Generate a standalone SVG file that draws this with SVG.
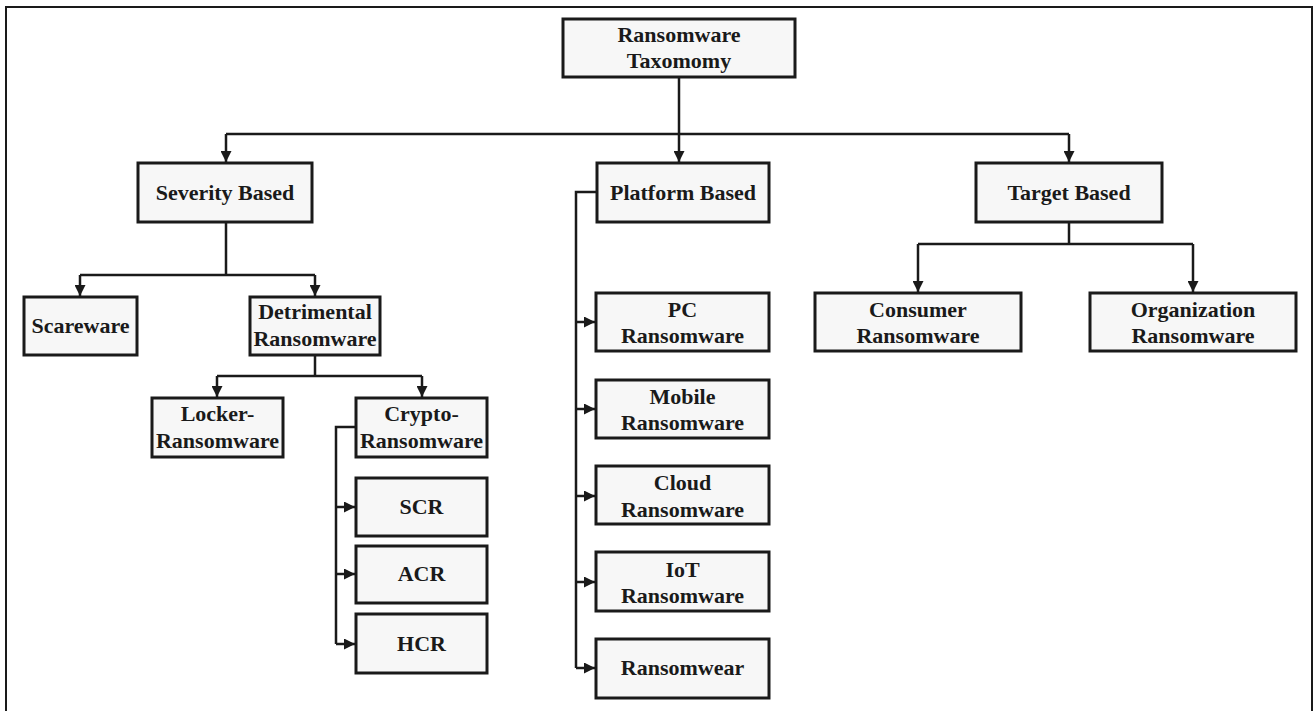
<svg xmlns="http://www.w3.org/2000/svg" width="1314" height="711" viewBox="0 0 1314 711">
<style>
.box{fill:#f7f7f7;stroke:#1a1a1a;stroke-width:3}
.t{font-family:'Liberation Serif','Times New Roman',serif;font-weight:700;font-size:22px;fill:#1a1a1a;text-anchor:middle}
.c{fill:none;stroke:#1a1a1a;stroke-width:2.5}
</style>
<defs>
<marker id="ah" markerUnits="userSpaceOnUse" markerWidth="11" markerHeight="11" viewBox="0 0 10 10" refX="10" refY="5" orient="auto">
<path d="M0,0 L10,5 L0,10 Z" fill="#1a1a1a"/>
</marker>
</defs>
<rect x="0" y="0" width="1314" height="711" fill="#ffffff"/>
<path d="M6,720 L6,7 L1312,7 L1312,720" fill="none" stroke="#1a1a1a" stroke-width="2"/>
<g id="connectors">
<path class="c" d="M679,77 L679,162" marker-end="url(#ah)"/>
<path class="c" d="M226,134 L1069,134"/>
<path class="c" d="M226,134 L226,162" marker-end="url(#ah)"/>
<path class="c" d="M1069,134 L1069,162" marker-end="url(#ah)"/>
<path class="c" d="M226,222 L226,275 M80,275 L315,275"/>
<path class="c" d="M80,275 L80,296" marker-end="url(#ah)"/>
<path class="c" d="M315,275 L315,296" marker-end="url(#ah)"/>
<path class="c" d="M315,355 L315,376 M217,376 L422,376"/>
<path class="c" d="M217,376 L217,397" marker-end="url(#ah)"/>
<path class="c" d="M422,376 L422,397" marker-end="url(#ah)"/>
<path class="c" d="M356,427 L336,427 L336,644"/>
<path class="c" d="M336,507 L355,507" marker-end="url(#ah)"/>
<path class="c" d="M336,574 L355,574" marker-end="url(#ah)"/>
<path class="c" d="M336,644 L355,644" marker-end="url(#ah)"/>
<path class="c" d="M597,192 L576,192 L576,668"/>
<path class="c" d="M576,322 L595,322" marker-end="url(#ah)"/>
<path class="c" d="M576,409 L595,409" marker-end="url(#ah)"/>
<path class="c" d="M576,496 L595,496" marker-end="url(#ah)"/>
<path class="c" d="M576,582 L595,582" marker-end="url(#ah)"/>
<path class="c" d="M576,668 L595,668" marker-end="url(#ah)"/>
<path class="c" d="M1069,222 L1069,244 M918,244 L1193,244"/>
<path class="c" d="M918,244 L918,292" marker-end="url(#ah)"/>
<path class="c" d="M1193,244 L1193,292" marker-end="url(#ah)"/>
</g>
<g id="root"><rect class="box" x="563" y="19" width="232" height="58"/><text class="t" x="679" y="42">Ransomware</text><text class="t" x="679" y="68">Taxomomy</text></g>
<g id="severity"><rect class="box" x="138" y="163" width="174" height="59"/><text class="t" x="225" y="200">Severity Based</text></g>
<g id="platform"><rect class="box" x="597" y="163" width="172" height="59"/><text class="t" x="683" y="200">Platform Based</text></g>
<g id="target"><rect class="box" x="976" y="163" width="186" height="59"/><text class="t" x="1069" y="200">Target Based</text></g>
<g id="scareware"><rect class="box" x="24" y="297" width="113" height="58"/><text class="t" x="80.5" y="333">Scareware</text></g>
<g id="detrimental"><rect class="box" x="250" y="297" width="130" height="58"/><text class="t" x="315" y="319">Detrimental</text><text class="t" x="315" y="346">Ransomware</text></g>
<g id="locker"><rect class="box" x="152" y="398" width="131" height="59"/><text class="t" x="217.5" y="421">Locker-</text><text class="t" x="217.5" y="448">Ransomware</text></g>
<g id="crypto"><rect class="box" x="356" y="398" width="131" height="59"/><text class="t" x="421.5" y="421">Crypto-</text><text class="t" x="421.5" y="448">Ransomware</text></g>
<g id="scr"><rect class="box" x="356" y="478" width="131" height="58"/><text class="t" x="421.5" y="514">SCR</text></g>
<g id="acr"><rect class="box" x="356" y="546" width="131" height="57"/><text class="t" x="421.5" y="581">ACR</text></g>
<g id="hcr"><rect class="box" x="356" y="614" width="131" height="59"/><text class="t" x="421.5" y="651">HCR</text></g>
<g id="pc"><rect class="box" x="596" y="293" width="173" height="58"/><text class="t" x="682.5" y="317">PC</text><text class="t" x="682.5" y="343">Ransomware</text></g>
<g id="mobile"><rect class="box" x="596" y="380" width="173" height="58"/><text class="t" x="682.5" y="404">Mobile</text><text class="t" x="682.5" y="430">Ransomware</text></g>
<g id="cloud"><rect class="box" x="596" y="466" width="173" height="58"/><text class="t" x="682.5" y="490">Cloud</text><text class="t" x="682.5" y="517">Ransomware</text></g>
<g id="iot"><rect class="box" x="596" y="552" width="173" height="59"/><text class="t" x="682.5" y="577">IoT</text><text class="t" x="682.5" y="603">Ransomware</text></g>
<g id="ransomwear"><rect class="box" x="596" y="639" width="173" height="59"/><text class="t" x="682.5" y="675">Ransomwear</text></g>
<g id="consumer"><rect class="box" x="815" y="293" width="206" height="58"/><text class="t" x="918" y="317">Consumer</text><text class="t" x="918" y="343">Ransomware</text></g>
<g id="organization"><rect class="box" x="1090" y="293" width="206" height="58"/><text class="t" x="1193" y="317">Organization</text><text class="t" x="1193" y="343">Ransomware</text></g>
</svg>
